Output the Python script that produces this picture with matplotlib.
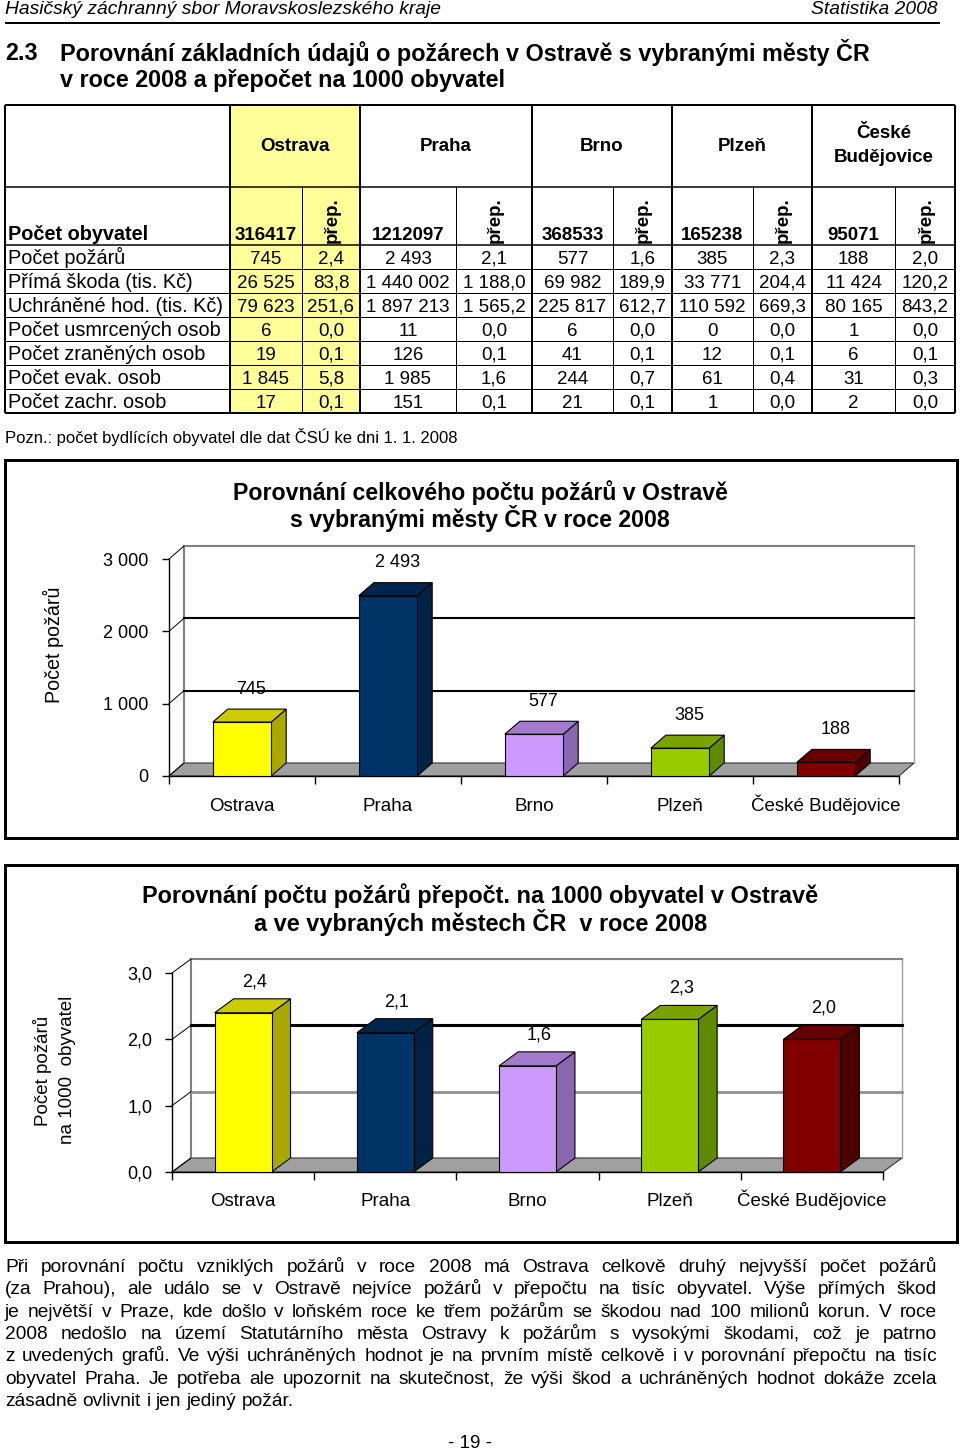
import matplotlib
matplotlib.use('Agg')
import matplotlib.pyplot as plt
from matplotlib.patches import Polygon, Rectangle
from matplotlib.lines import Line2D
from matplotlib.ticker import FuncFormatter, FixedLocator, NullFormatter

plt.rcParams['font.family'] = ['Liberation Sans', 'DejaVu Sans']

# ---------------- data ----------------
cities = ['Ostrava', 'Praha', 'Brno', 'Plzeň', 'České Budějovice']
population = ['316417', '1212097', '368533', '165238', '95071']
row_labels = ['Počet požárů', 'Přímá škoda (tis. Kč)', 'Uchráněné hod. (tis. Kč)',
              'Počet usmrcených osob', 'Počet zraněných osob', 'Počet evak. osob',
              'Počet zachr. osob']
abs_values = [
    ['745', '2 493', '577', '385', '188'],
    ['26 525', '1 440 002', '69 982', '33 771', '11 424'],
    ['79 623', '1 897 213', '225 817', '110 592', '80 165'],
    ['6', '11', '6', '0', '1'],
    ['19', '126', '41', '12', '6'],
    ['1 845', '1 985', '244', '61', '31'],
    ['17', '151', '21', '1', '2'],
]
per1000_values = [
    ['2,4', '2,1', '1,6', '2,3', '2,0'],
    ['83,8', '1 188,0', '189,9', '204,4', '120,2'],
    ['251,6', '1 565,2', '612,7', '669,3', '843,2'],
    ['0,0', '0,0', '0,0', '0,0', '0,0'],
    ['0,1', '0,1', '0,1', '0,1', '0,1'],
    ['5,8', '1,6', '0,7', '0,4', '0,3'],
    ['0,1', '0,1', '0,1', '0,0', '0,0'],
]
fires = [745, 2493, 577, 385, 188]
fires_per1000 = [2.4, 2.1, 1.6, 2.3, 2.0]
ticks_fires = [0, 1000, 2000, 3000]
ticks_per1000 = [0.0, 1.0, 2.0, 3.0]

front_colors = ['#FFFF00', '#003366', '#CC99FF', '#99CC00', '#800000']
top_colors = ['#CCCC00', '#00264D', '#A37ACC', '#7AA300', '#660000']
side_colors = ['#A8A800', '#002244', '#8A68B0', '#5E8A00', '#4D0000']

body_lines = [
    "Při porovnání počtu vzniklých požárů v roce 2008 má Ostrava celkově druhý nejvyšší počet požárů",
    "(za Prahou), ale událo se v Ostravě nejvíce požárů v přepočtu na tisíc obyvatel.  Výše přímých škod",
    "je největší v Praze, kde došlo v loňském roce ke třem požárům se škodou nad 100 milionů korun. V roce",
    "2008 nedošlo na území Statutárního města Ostravy k požárům s vysokými škodami, což je patrno",
    "z uvedených grafů. Ve výši uchráněných hodnot je na prvním místě celkově i v porovnání přepočtu na tisíc",
    "obyvatel Praha. Je potřeba ale upozornit na skutečnost, že výši škod a uchráněných hodnot dokáže zcela",
    "zásadně ovlivnit i jen jediný požár.",
]

# ---------------- figure ----------------
W, H = 960, 1455
fig = plt.figure(figsize=(W / 100, H / 100), dpi=100)
page = fig.add_axes([0, 0, 1, 1])
page.set_xlim(0, W)
page.set_ylim(H, 0)
page.axis('off')
PX = 0.72  # points per pixel


def hline(x0, x1, y, lw=1, color='black', z=2):
    page.add_line(Line2D([x0, x1], [y, y], lw=lw * PX, color=color, zorder=z,
                         solid_capstyle='butt'))


def vline(x, y0, y1, lw=1, color='black', z=2):
    page.add_line(Line2D([x, x], [y0, y1], lw=lw * PX, color=color, zorder=z,
                         solid_capstyle='butt'))


# header
page.text(5, 10, 'Hasičský záchranný sbor Moravskoslezského kraje', fontsize=13.9,
          style='italic', va='center', ha='left')
page.text(938, 10, 'Statistika 2008', fontsize=13.9, style='italic', va='center', ha='right')
hline(5, 940, 23, lw=2)

page.text(5, 53, '2.3', fontsize=16.8, fontweight='bold', va='center', ha='left')
page.text(60, 53, 'Porovnání základních údajů o požárech v Ostravě s vybranými městy ČR',
          fontsize=16.8, fontweight='bold', va='center', ha='left')
page.text(60, 80, 'v roce 2008 a přepočet na 1000 obyvatel', fontsize=16.8,
          fontweight='bold', va='center', ha='left')

# ---------------- table ----------------
col_edges = [5, 230, 302, 360, 456, 532, 613, 672, 753, 812, 895, 955]
row_edges = [105, 187, 245, 269, 293, 317, 341, 365, 389, 413]
TFS = 13.5
LFS = 14.3

page.add_patch(Rectangle((col_edges[1], row_edges[0]), col_edges[3] - col_edges[1],
                         row_edges[-1] - row_edges[0], facecolor='#FFFF99',
                         edgecolor='none', zorder=1))

for i, y in enumerate(row_edges):
    lw = 2 if i in (0, len(row_edges) - 1) else (1.5 if i in (1, 2) else 1)
    hline(col_edges[0], col_edges[-1], y, lw=lw)
group_edges = [col_edges[0], col_edges[1], col_edges[3], col_edges[5], col_edges[7],
               col_edges[9], col_edges[11]]
for x in group_edges:
    vline(x, row_edges[0], row_edges[-1], lw=2)
for k in (2, 4, 6, 8, 10):
    vline(col_edges[k], row_edges[1], row_edges[-1], lw=1)

# header row 1: city names
for c in range(5):
    cx = (col_edges[1 + 2 * c] + col_edges[3 + 2 * c]) / 2
    name = cities[c]
    if c == 4:
        parts = name.split(' ')
        page.text(cx, 138, parts[0], fontsize=TFS, fontweight='bold', ha='center', va='baseline')
        page.text(cx, 162, parts[1], fontsize=TFS, fontweight='bold', ha='center', va='baseline')
    else:
        page.text(cx, 151, name, fontsize=TFS, fontweight='bold', ha='center', va='baseline')

# header row 2
page.text(8, 240, 'Počet obyvatel', fontsize=LFS, fontweight='bold', ha='left', va='baseline')
for c in range(5):
    x0, x1, x2 = col_edges[1 + 2 * c], col_edges[2 + 2 * c], col_edges[3 + 2 * c]
    page.text((x0 + x1) / 2, 240, population[c], fontsize=TFS, fontweight='bold',
              ha='center', va='baseline')
    page.text((x1 + x2) / 2 + 1, 243, 'přep.', fontsize=TFS, fontweight='bold',
              ha='center', va='bottom', rotation=90)

# data rows
for r, lab in enumerate(row_labels):
    by = row_edges[3 + r] - 5
    page.text(8, by, lab, fontsize=LFS, ha='left', va='baseline')
    for c in range(5):
        x0, x1, x2 = col_edges[1 + 2 * c], col_edges[2 + 2 * c], col_edges[3 + 2 * c]
        page.text((x0 + x1) / 2, by, abs_values[r][c], fontsize=TFS, ha='center', va='baseline')
        page.text((x1 + x2) / 2, by, per1000_values[r][c], fontsize=TFS, ha='center', va='baseline')

page.text(5, 443, 'Pozn.: počet bydlících obyvatel dle dat ČSÚ ke dni 1. 1. 2008', fontsize=12,
          ha='left', va='baseline')


# ---------------- 3D-like bar charts ----------------
def bar_chart(l, r, y0, ytop, ymax, values, ticks, tick_fmt, val_fmt, depth, grid_styles,
              label_off, ypad, xpad):
    ax = fig.add_axes([l / W, 1 - y0 / H, (r - l) / W, (y0 - ytop) / H])
    ax.set_xlim(0, 5)
    ax.set_ylim(0, ymax)
    ax.patch.set_alpha(0)
    sx = 5 / (r - l)
    sy = ymax / (y0 - ytop)
    ddx, ddy = depth[0] * sx, depth[1] * sy

    # floor
    ax.add_patch(Polygon([(0, 0), (5, 0), (5 + ddx, ddy), (ddx, ddy)], closed=True,
                         facecolor='#A0A0A0', edgecolor='#333333', lw=0.8, zorder=1,
                         clip_on=False))
    # walls / gridlines
    ax.add_line(Line2D([ddx, ddx], [ddy, ymax + ddy], color='#808080', lw=1.5,
                       zorder=1.2, clip_on=False))
    ax.add_line(Line2D([5 + ddx, 5 + ddx], [ddy, ymax + ddy], color='#A0A0A0', lw=1.0,
                       zorder=1.2, clip_on=False))
    for v in ticks:
        col, lw = grid_styles.get(v, ('black', 0.8))
        if v > 0:
            ax.add_line(Line2D([ddx, 5 + ddx], [v + ddy, v + ddy], color=col, lw=lw,
                               zorder=1.3, clip_on=False))
        ax.add_line(Line2D([0, ddx], [v, v + ddy], color='black', lw=0.7, zorder=1.4,
                           clip_on=False))

    # bars
    xs = [i + 0.5 for i in range(len(values))]
    bw = 0.4
    ax.bar(xs, values, width=bw, color=front_colors, edgecolor='black', linewidth=0.8,
           zorder=3)
    for i, v in enumerate(values):
        xl, xr = xs[i] - bw / 2, xs[i] + bw / 2
        ax.add_patch(Polygon([(xr, 0), (xr + ddx, ddy), (xr + ddx, v + ddy), (xr, v)],
                             closed=True, facecolor=side_colors[i], edgecolor='black',
                             lw=0.8, zorder=2.9, clip_on=False))
        ax.add_patch(Polygon([(xl, v), (xr, v), (xr + ddx, v + ddy), (xl + ddx, v + ddy)],
                             closed=True, facecolor=top_colors[i], edgecolor='black',
                             lw=0.8, zorder=2.9, clip_on=False))
        ax.text(xs[i] + ddx / 2 + 2 * sx, v + ddy + label_off * sy, val_fmt(v), fontsize=13,
                ha='center', va='center', zorder=4)

    for s in ('top', 'right'):
        ax.spines[s].set_visible(False)
    for s in ('left', 'bottom'):
        ax.spines[s].set_linewidth(1.0)
        ax.spines[s].set_zorder(2)
    ax.yaxis.set_major_locator(FixedLocator(ticks))
    ax.yaxis.set_major_formatter(FuncFormatter(lambda v, p: tick_fmt(v)))
    ax.tick_params(axis='y', direction='out', length=5, width=1, labelsize=13, pad=ypad)
    ax.xaxis.set_major_locator(FixedLocator([0, 1, 2, 3, 4, 5]))
    ax.xaxis.set_major_formatter(NullFormatter())
    ax.xaxis.set_minor_locator(FixedLocator(xs))
    ax.xaxis.set_minor_formatter(FuncFormatter(lambda v, p: cities[int(v)]))
    ax.tick_params(axis='x', which='major', direction='out', length=6, width=1)
    ax.tick_params(axis='x', which='minor', length=0, labelsize=13.5, pad=xpad)
    for lbl in ax.get_xticklabels(minor=True):
        lbl.set_verticalalignment('baseline')
    return ax


def fmt_thousands(v):
    return f'{v:,.0f}'.replace(',', ' ')


def fmt_dec(v):
    return f'{v:.1f}'.replace('.', ',')


# chart 1
page.add_patch(Rectangle((5, 460), 952, 378, facecolor='none', edgecolor='black',
                         lw=3 * PX, zorder=2))
page.text(480, 493, 'Porovnání celkového počtu požárů v Ostravě', fontsize=16.7,
          fontweight='bold', ha='center', va='center')
page.text(480, 519, 's vybranými městy ČR v roce 2008', fontsize=16.7, fontweight='bold',
          ha='center', va='center')
page.text(53, 645, 'Počet požárů', fontsize=14.2, rotation=90, ha='center', va='center')
bar_chart(169, 899, 776, 559, 3000, fires, ticks_fires, fmt_thousands, fmt_thousands,
          (15, 13), {3000: ('#808080', 1.5), 2000: ('black', 1.5), 1000: ('black', 1.5)}, 20,
          9.5, 25)

# chart 2
page.add_patch(Rectangle((5, 865), 952, 377, facecolor='none', edgecolor='black',
                         lw=3 * PX, zorder=2))
page.text(480, 896, 'Porovnání počtu požárů přepočt. na 1000 obyvatel v Ostravě',
          fontsize=16.9, fontweight='bold', ha='center', va='center')
page.text(481, 922, 'a ve vybraných městech ČR  v roce 2008', fontsize=16.9,
          fontweight='bold', ha='center', va='center')
page.text(43, 1071, 'Počet požárů', fontsize=13.5, rotation=90, ha='center', va='center')
page.text(67, 1070, 'na 1000  obyvatel', fontsize=13.5, rotation=90, ha='center', va='center')
bar_chart(172, 883, 1172, 973, 3.0, fires_per1000, ticks_per1000, fmt_dec, fmt_dec,
          (19, 14), {3.0: ('#808080', 1.5), 2.0: ('black', 2.2), 1.0: ('#909090', 2.0)}, 17,
          9, 24.5)

# ---------------- justified body text ----------------
renderer = fig.canvas.get_renderer()
BFS = 13.8
x_left, x_right = 5, 937


def text_width(s):
    t = page.text(0, 0, s, fontsize=BFS)
    w = t.get_window_extent(renderer).width
    t.remove()
    return w


space_w = text_width('a a') - 2 * text_width('a')
for li, line in enumerate(body_lines):
    y = 1272 + li * 22.3
    words = [w for w in line.split(' ') if w]
    texts = [page.text(0, y, w, fontsize=BFS, ha='left', va='baseline') for w in words]
    widths = [t.get_window_extent(renderer).width for t in texts]
    if li < len(body_lines) - 1 and len(words) > 1:
        gap = (x_right - x_left - sum(widths)) / (len(words) - 1)
    else:
        gap = max(space_w, 3.5)
    x = x_left
    for t, w in zip(texts, widths):
        t.set_x(x)
        x += w + gap

page.text(470, 1444, '- 19 -', fontsize=13.5, ha='center', va='center')

fig.savefig('out.png', dpi=100)
